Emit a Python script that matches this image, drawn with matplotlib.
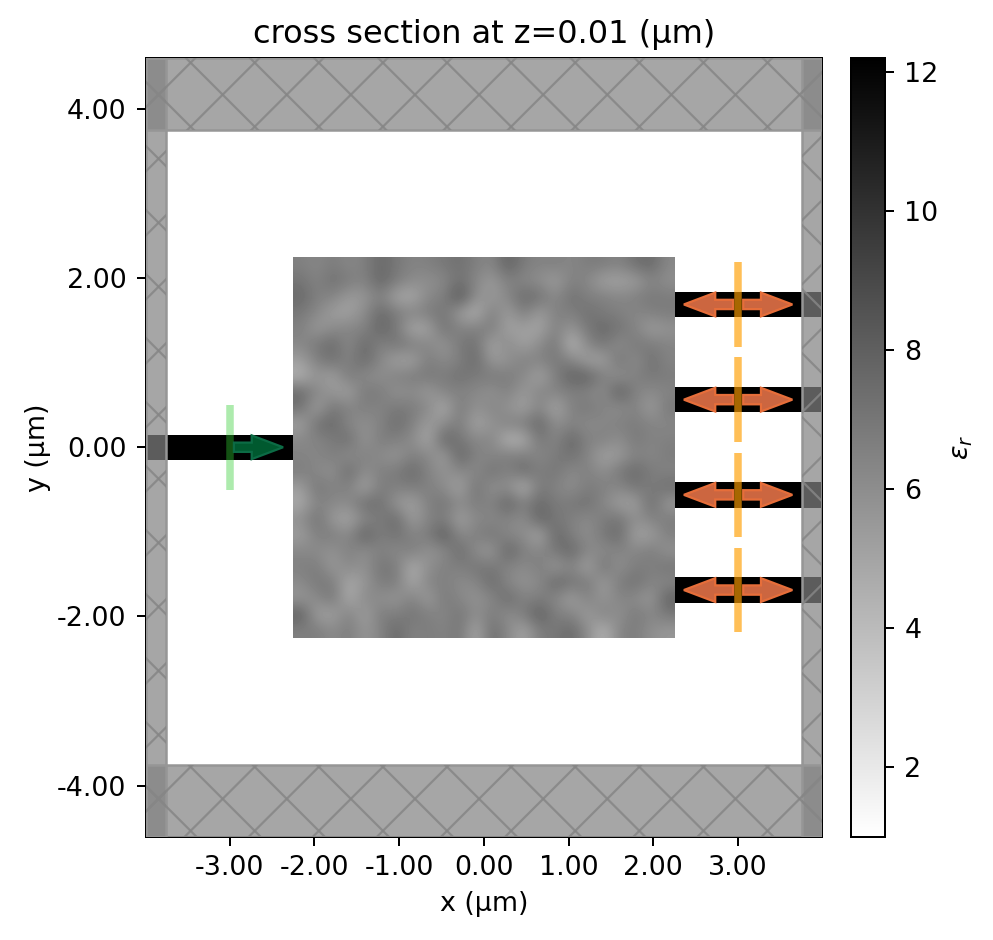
import numpy as np
import matplotlib
matplotlib.use("Agg")
import matplotlib.pyplot as plt
from matplotlib.patches import Rectangle, FancyArrow
from matplotlib.cm import ScalarMappable
from matplotlib.colors import Normalize
from matplotlib.ticker import FormatStrFormatter

W, H, DPI = 993, 940, 180

# relative permittivity of the design region (rows top to bottom)
eps_top_left = [
 [6.4,6.2,6.5,6.2,6.4,7.0,6.6,6.3,6.4,6.6,6.8,6.4],
 [6.7,6.3,6.8,6.5,6.3,7.1,6.5,6.1,6.0,6.2,6.8,6.2],
 [7.0,6.4,6.3,5.7,5.8,6.4,5.4,5.3,6.2,6.4,7.6,6.0],
 [6.6,6.2,5.6,5.5,6.1,7.0,6.5,6.3,6.5,6.7,5.6,5.1],
 [6.4,5.7,6.1,6.3,6.3,7.1,6.6,5.3,5.5,6.8,6.3,6.4],
 [6.2,6.6,7.0,6.1,7.0,6.3,6.7,6.5,6.2,5.8,6.6,6.8],
 [5.6,6.4,6.8,6.3,7.0,6.2,5.5,5.5,6.5,6.1,6.4,7.0],
 [5.1,5.9,5.5,6.6,6.1,6.0,6.4,6.5,6.6,6.5,6.8,6.5],
 [7.0,6.2,5.8,5.5,6.6,6.5,5.9,6.1,5.7,6.3,6.3,6.2],
 [6.8,5.5,6.7,6.3,6.4,6.3,6.6,6.5,6.2,5.2,6.6,5.9],
 [5.5,6.8,7.0,6.2,6.0,6.3,6.9,6.4,5.6,6.1,6.5,5.4],
 [6.2,6.3,6.5,6.9,5.8,6.5,6.4,6.1,5.3,7.2,6.6,6.2],
]
eps_top_right = [
 [6.2,7.2,6.5,6.3,6.4,6.2,6.5,6.5,6.3,6.8,7.0,6.2],
 [5.7,6.4,6.2,6.0,5.6,6.4,6.2,5.5,5.5,5.6,6.3,6.0],
 [5.7,6.2,7.0,6.8,6.1,6.8,6.4,6.4,6.2,6.4,6.6,6.5],
 [6.5,5.6,6.5,5.6,6.4,6.4,6.8,6.5,6.4,6.2,6.4,6.5],
 [6.5,5.5,5.6,5.4,6.4,5.8,6.6,7.0,6.7,6.3,5.6,5.9],
 [5.4,6.2,5.5,6.1,6.7,4.9,6.2,6.7,6.0,6.6,6.5,6.3],
 [5.7,5.9,6.4,6.3,6.6,6.3,5.5,5.5,6.8,6.0,6.8,6.3],
 [6.6,6.5,6.2,5.4,6.4,7.2,7.2,6.4,5.9,6.4,6.6,6.5],
 [5.9,6.4,5.7,6.3,6.3,6.4,6.3,6.0,7.4,6.3,6.1,6.3],
 [6.3,5.9,5.5,6.3,5.3,6.4,6.6,6.3,6.0,6.4,5.6,6.6],
 [5.9,6.4,6.5,7.1,6.0,6.3,6.1,6.2,6.4,6.5,6.3,6.2],
 [6.3,5.0,5.2,6.7,6.2,7.1,6.3,6.4,6.0,6.6,6.3,6.4],
]
eps_bottom_left = [
 [6.3,6.2,6.5,6.0,6.4,6.1,5.8,6.4,6.2,5.6,7.2,6.3],
 [6.5,6.2,5.9,7.0,6.0,6.4,6.5,7.0,6.3,5.9,6.2,6.1],
 [5.6,6.7,6.3,6.4,5.4,6.5,6.4,6.5,6.4,6.1,5.4,6.8],
 [5.3,6.3,6.2,6.1,6.9,6.8,5.8,5.5,6.4,6.7,6.1,6.5],
 [6.0,6.8,5.7,5.4,6.2,6.5,7.0,5.6,6.3,6.5,5.5,6.2],
 [5.6,6.4,6.5,6.1,7.3,6.4,6.8,6.3,6.5,7.4,6.1,6.4],
 [6.2,6.1,5.9,6.4,6.0,6.4,6.1,6.5,5.9,6.1,7.0,6.0],
 [6.4,6.5,5.7,6.2,5.9,6.7,6.5,5.2,6.0,6.4,6.4,6.7],
 [6.1,6.6,6.5,5.3,5.8,6.5,6.5,5.3,6.3,6.4,6.1,6.2],
 [5.8,6.1,6.7,5.2,6.2,6.0,5.8,6.4,5.6,6.6,6.2,5.9],
 [7.3,5.6,5.5,6.4,5.5,6.5,6.4,6.7,6.4,6.2,6.7,6.0],
 [6.4,6.5,6.1,6.5,5.8,6.3,7.0,6.3,6.5,6.3,6.7,5.3],
]
eps_bottom_right = [
 [6.2,6.5,6.4,6.2,6.5,6.8,6.3,5.5,5.7,6.3,6.2,6.5],
 [6.8,6.3,7.0,6.4,6.7,6.1,6.4,6.0,6.6,7.0,6.5,6.3],
 [5.9,6.1,5.0,6.6,6.3,6.0,6.5,6.4,6.2,6.7,6.4,6.9],
 [6.3,7.2,6.4,7.0,6.5,6.6,6.8,6.2,5.6,5.5,7.0,5.7],
 [6.2,6.3,6.0,7.2,6.6,6.4,6.1,6.5,6.7,6.0,6.3,6.5],
 [6.7,6.2,6.1,5.3,7.1,6.4,6.0,6.6,7.0,5.5,5.6,6.4],
 [5.7,7.2,6.4,6.2,6.6,7.1,6.2,6.1,6.3,6.2,6.5,5.9],
 [6.6,6.3,6.1,6.5,5.7,6.3,5.4,6.8,5.9,6.5,6.4,6.7],
 [7.0,6.2,5.9,6.1,7.1,6.7,6.6,5.6,6.5,6.8,6.3,6.2],
 [6.2,7.0,6.3,6.5,6.2,5.5,6.4,5.8,6.3,6.1,5.7,7.2],
 [6.5,6.0,6.5,7.3,6.4,6.3,5.6,6.4,5.9,6.6,6.2,6.6],
 [6.9,6.2,5.4,6.5,6.6,7.0,6.1,5.0,6.3,6.5,6.0,5.8],
]

# structure layout (µm)
eps_min, eps_max = 1.0, 12.2
x_lim = (-3.99, 3.99)
y_lim = (-4.6, 4.6)
design_half = 2.25
wg_width = 0.3
wg_input_y = [0.0]
wg_output_y = [1.6875, 0.5625, -0.5625, -1.6875]
pml_start = 3.75
source_x = -3.0
monitor_x = 3.0
port_half = 0.5
x_ticks = [-3, -2, -1, 0, 1, 2, 3]
y_ticks = [-4, -2, 0, 2, 4]
cbar_ticks = [2, 4, 6, 8, 10, 12]


def fx(px):
    return px / W


def fy(px):
    return 1 - px / H


plt.rcParams["font.family"] = "DejaVu Sans"
plt.rcParams["font.size"] = 10.75
plt.rcParams["xtick.major.pad"] = 4.0
plt.rcParams["ytick.major.pad"] = 4.2
fig = plt.figure(figsize=(W / DPI, H / DPI), dpi=DPI)
ax = fig.add_axes([fx(145.8), fy(836.5), fx(822) - fx(145.8), fy(58) - fy(836.5)])
cax = fig.add_axes([fx(851), fy(836.5), fx(885) - fx(851), fy(58) - fy(836.5)])
cmap = plt.get_cmap("gist_yarg")
norm = Normalize(eps_min, eps_max)

# waveguides
for y in wg_input_y:
    ax.add_patch(Rectangle((x_lim[0], y - wg_width / 2), -design_half - x_lim[0], wg_width,
                           fc="black", ec="none", zorder=1))
for y in wg_output_y:
    ax.add_patch(Rectangle((design_half, y - wg_width / 2), x_lim[1] - design_half, wg_width,
                           fc="black", ec="none", zorder=1))

# design region (typed values are blurred estimates, so their spread is widened)
eps = np.block([[np.array(eps_top_left), np.array(eps_top_right)],
                [np.array(eps_bottom_left), np.array(eps_bottom_right)]])
eps_shown = eps.mean() + 0.1 + 1.7 * (eps - eps.mean())
ax.imshow(eps_shown, cmap=cmap, norm=norm, extent=(-design_half, design_half, -design_half, design_half),
          interpolation="bicubic", zorder=2, aspect="auto")

# absorbing layers
pml_color = "#828282"
pml_alpha = 0.71
pml_boxes = [
    (x_lim[0], y_lim[0], -pml_start - x_lim[0], y_lim[1] - y_lim[0]),
    (pml_start, y_lim[0], x_lim[1] - pml_start, y_lim[1] - y_lim[0]),
    (x_lim[0], y_lim[0], x_lim[1] - x_lim[0], -pml_start - y_lim[0]),
    (x_lim[0], pml_start, x_lim[1] - x_lim[0], y_lim[1] - pml_start),
]
hatch_period = 0.7565
hatch_x0, hatch_y0 = -3.083, -4.155
for bx, by, bw, bh in pml_boxes:
    box = Rectangle((bx, by), bw, bh, fc=pml_color, ec="none", alpha=pml_alpha, zorder=3)
    ax.add_patch(box)
    ax.add_patch(Rectangle((bx, by), bw, bh, fc="none", ec="#969696", lw=1.0, zorder=3.1))
    for k in range(-40, 41):
        s = np.array([-25.0, 25.0])
        offset = k * hatch_period
        for sign in (1, -1):
            xs = hatch_x0 + s
            ys = hatch_y0 + sign * s + offset
            line, = ax.plot(xs, ys, color="#868686", lw=0.9, alpha=0.85, zorder=3.2,
                            solid_capstyle="butt")
            line.set_clip_path(box)

# source and monitors
ax.plot([source_x, source_x], [wg_input_y[0] - port_half, wg_input_y[0] + port_half],
        color="limegreen", alpha=0.4, lw=3, solid_capstyle="butt", zorder=4)
for y in wg_output_y:
    ax.plot([monitor_x, monitor_x], [y - port_half, y + port_half],
            color="#ff9e00", alpha=0.66, lw=3, solid_capstyle="butt", zorder=5)


def arrow(x0, y0, length, fc, ec):
    ax.add_patch(FancyArrow(x0, y0, length, 0, width=0.11, head_width=0.28, head_length=0.37,
                            length_includes_head=True, fc=fc, ec=ec, lw=0.9, zorder=4.5))


arrow(source_x + 0.05, wg_input_y[0], 0.58, "#00592f", "#0c6b45")
for y in wg_output_y:
    arrow(monitor_x + 0.06, y, 0.58, "#cc6640", "#e66e3a")
    arrow(monitor_x - 0.06, y, -0.58, "#cc6640", "#e66e3a")

ax.set_xlim(*x_lim)
ax.set_ylim(*y_lim)
ax.set_xticks(x_ticks)
ax.set_yticks(y_ticks)
ax.xaxis.set_major_formatter(FormatStrFormatter("%.2f"))
ax.yaxis.set_major_formatter(FormatStrFormatter("%.2f"))
ax.set_xlabel("x (μm)")
ax.set_ylabel("y (μm)", labelpad=2.5)
ax.set_title("cross section at z=0.01 (μm)", fontsize=12.8)

cb = fig.colorbar(ScalarMappable(norm=norm, cmap=cmap), cax=cax)
cb.set_ticks(cbar_ticks)
cb.set_label(r"$\varepsilon_r$", labelpad=4)

fig.savefig("out.png", dpi=DPI)
